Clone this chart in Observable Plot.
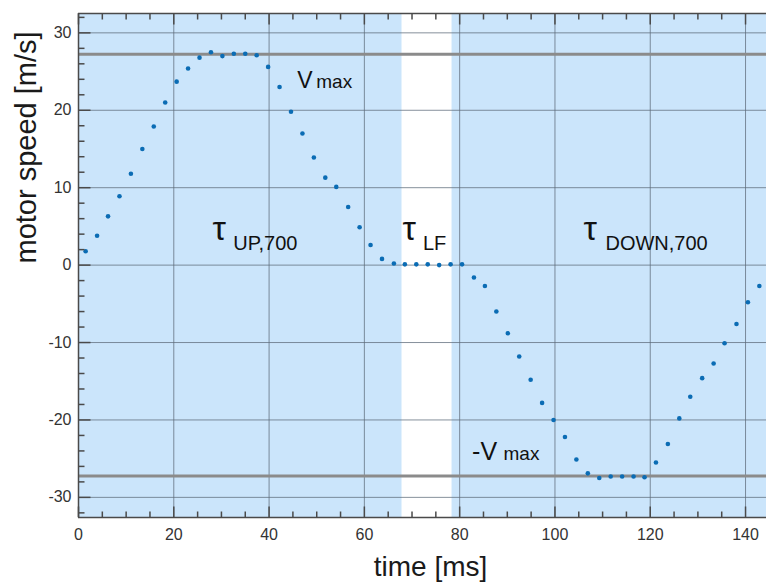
<!DOCTYPE html>
<html><head><meta charset="utf-8">
<script src="https://cdn.jsdelivr.net/npm/d3@7"></script>
<script src="https://cdn.jsdelivr.net/npm/@observablehq/plot@0.6"></script>
<style>body{margin:0;background:#fff} svg{display:block}</style>
</head><body><div id="chart"></div>
<script>
// time [ms] of each sample
const timeMs = [1.5,3.9,6.2,8.6,11.0,13.4,15.8,18.2,20.6,23.0,25.4,27.8,30.2,32.6,35.0,37.4,39.8,42.2,44.6,47.0,
  49.4,51.8,54.1,56.6,59.0,61.3,63.7,66.2,68.5,70.9,73.3,75.7,78.1,80.5,83.0,85.3,87.7,90.1,92.5,94.9,
  97.3,99.7,102.1,104.5,106.9,109.3,111.7,114.1,116.5,118.8,121.2,123.7,126.1,128.4,130.9,133.3,135.6,138.1,140.5,142.9];
// motor speed [m/s]
const speed = [1.8,3.8,6.3,8.9,11.8,15.0,17.9,21.0,23.7,25.4,26.8,27.5,27.0,27.3,27.3,27.1,25.6,23.0,19.8,17.0,
  13.9,11.3,10.1,7.5,4.9,2.6,0.8,0.2,0.1,0.1,0.1,0.0,0.1,0.1,-1.6,-2.7,-6.0,-8.8,-11.8,-14.8,
  -17.8,-20.0,-22.2,-25.1,-26.9,-27.5,-27.3,-27.3,-27.3,-27.4,-25.5,-23.1,-19.8,-17.0,-14.6,-12.7,-10.1,-7.6,-4.8,-2.7];
const vMax = 27.25;
// shaded phases (start, end in ms)
const phaseStart = [0, 78.4];
const phaseEnd = [67.9, 144.4];
const xDomain = [0, 144.4];
const yDomain = [-32.6, 32.5];
const xTicks = [0,20,40,60,80,100,120,140];
const xMinor = [5,10,15,25,30,35,45,50,55,65,70,75,85,90,95,105,110,115,125,130,135];
const yTicks = [-30,-20,-10,0,10,20,30];
const yMinor = [-32,-28,-26,-24,-22,-18,-16,-14,-12,-8,-6,-4,-2,2,4,6,8,12,14,16,18,22,24,26,28,32];
// annotations: text, x [ms], baseline y [m/s], size
const annText = ["V","max","τ","UP,700","τ","LF","τ","DOWN,700","-V","max"];
const annX    = [45.9, 49.9, 28.1, 32.5, 68.0, 72.3, 106.0, 110.6, 82.6, 89.2];
const annY    = [22.9, 22.9, 3.3, 2.0, 3.3, 2.0, 3.3, 2.0, -25.2, -25.2];
const annSize = [23, 19, 34, 20, 34, 20, 34, 20, 25, 19];

const rows = timeMs.map((t, i) => ({t, v: speed[i]}));
const bands = phaseStart.map((s, i) => ({x1: s, x2: phaseEnd[i]}));
const ann = annText.map((s, i) => ({s, x: annX[i], y: annY[i], size: annSize[i]}));
const axisColor = "#4a4a4a";
const yLo = yDomain[0], yHi = yDomain[1], xLo = xDomain[0];
// tick lengths expressed in data units of the other axis
const kx = (yHi - yLo) / 504, ky = (xDomain[1] - xDomain[0]) / 688;
const tickRows = (vals, len) => vals.map(v => ({v, len}));
const xTickRows = tickRows(xMinor, 6).concat(tickRows(xTicks, 11));
const yTickRows = tickRows(yMinor, 6).concat(tickRows(yTicks, 12));

const chart = Plot.plot({
  width: 766, height: 582,
  marginLeft: 78, marginRight: 0, marginTop: 13, marginBottom: 65,
  style: {fontFamily: "'Liberation Sans', Arial, sans-serif", background: "white", overflow: "visible"},
  x: {domain: xDomain, axis: null},
  y: {domain: yDomain, axis: null},
  marks: [
    Plot.rect(bands, {x1: "x1", x2: "x2", fill: "#cbe5fb"}),
    Plot.ruleX(xTicks, {stroke: "#5d6b7a", strokeOpacity: 0.75}),
    Plot.ruleY(yTicks, {stroke: "#5d6b7a", strokeOpacity: 0.75}),
    Plot.ruleY([vMax, -vMax], {stroke: "#8b8b8b", strokeWidth: 3}),
    Plot.dot(rows, {x: "t", y: "v", r: 2.3, fill: "#0b6cb4"}),
    // frame (left, bottom, top)
    Plot.ruleX([xLo], {stroke: axisColor, strokeWidth: 1.5}),
    Plot.ruleY([yLo, yHi], {stroke: axisColor, strokeWidth: 1.5}),
    // inward ticks: bottom, top, left
    Plot.link(xTickRows, {x1: "v", x2: "v", y1: () => yLo, y2: d => yLo + d.len * kx, stroke: axisColor, strokeWidth: 1.5}),
    Plot.link(xTickRows, {x1: "v", x2: "v", y1: () => yHi, y2: d => yHi - d.len * kx, stroke: axisColor, strokeWidth: 1.5}),
    Plot.link(yTickRows, {y1: "v", y2: "v", x1: () => xLo, x2: d => xLo + d.len * ky, stroke: axisColor, strokeWidth: 1.5}),
    // tick labels
    Plot.axisX(xTicks, {anchor: "bottom", tickSize: 0, tickPadding: 11, fontSize: 16, fill: "#333", label: null, tickFormat: d => String(d)}),
    Plot.axisY(yTicks, {anchor: "left", tickSize: 0, tickPadding: 7, fontSize: 16, fill: "#333", label: null, tickFormat: d => String(d)}),
    // axis titles
    Plot.text(["time [ms]"], {frameAnchor: "bottom", lineAnchor: "bottom", dy: 58, dx: 8, fontSize: 28, fill: "#1a1a1a"}),
    Plot.text(["motor speed [m/s]"], {frameAnchor: "left", rotate: -90, lineAnchor: "bottom", dx: -43, dy: -2, fontSize: 29, fill: "#1a1a1a"}),
    // annotations
    Plot.text(ann, {x: "x", y: "y", text: "s", fontSize: d => d.size, textAnchor: "start", lineAnchor: "bottom", fill: "#111"})
  ]
});
document.getElementById("chart").appendChild(chart);
</script>
</body></html>
